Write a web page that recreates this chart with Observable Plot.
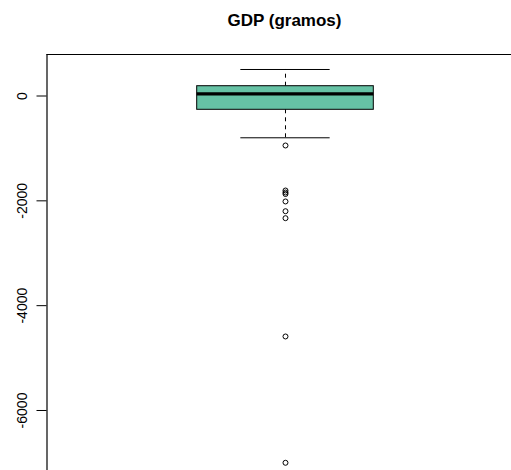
<!DOCTYPE html>
<html>
<head>
<meta charset="utf-8">
<script src="https://cdn.jsdelivr.net/npm/d3@7"></script>
<script src="https://cdn.jsdelivr.net/npm/@observablehq/plot@0.6"></script>
<style>
  html, body { margin: 0; padding: 0; background: #fff; }
  #wrap { position: relative; width: 511px; height: 470px; overflow: hidden; }
  #title { position: absolute; left: 0; top: 0; width: 511px; height: 40px; }
  #title span { position: absolute; left: 284.5px; top: 11px; transform: translateX(-50%);
    font-family: "Liberation Sans", Arial, sans-serif; font-weight: bold; font-size: 17px; white-space: nowrap; color: #000; }
  #chart { position: absolute; left: 0; top: 40px; }
  #chart svg { display: block; }
</style>
</head>
<body>
<div id="wrap">
  <div id="title"><span>GDP (gramos)</span></div>
  <div id="chart"></div>
</div>
<script>
// Box-plot summary (GDP, gramos)
const boxStats = [{
  group: 1,
  lowerWhisker: -797,
  q1: -263,
  median: 42,
  q3: 187,
  upperWhisker: 506
}];
// Outlying observations
const outliers = [-944, -1803, -1841, -1870, -2012, -2198, -2331, -4588, -6998];
// Y-axis tick values
const yTicks = [0, -2000, -4000, -6000];

const xDomain = [-0.0804, 2.0238];
const yDomain = [-7145, 792];
const boxHalf = 0.4, stapleHalf = 0.2023;

const outlierData = outliers.map(v => ({group: 1, value: v}));

const chart = Plot.plot({
  width: 511,
  height: 430,
  marginLeft: 46.5,
  marginRight: 0,
  marginTop: 14,
  marginBottom: 0,
  style: {fontFamily: '"Liberation Sans", Arial, sans-serif', fontSize: "14px", color: "#000", background: "#fff"},
  x: {domain: xDomain, axis: null},
  y: {domain: yDomain, axis: null},
  marks: [
    // frame (left and top edges)
    Plot.ruleX([xDomain[0]], {y1: yDomain[0], y2: yDomain[1], stroke: "#000", strokeWidth: 1.2}),
    Plot.ruleY([yDomain[1]], {x1: xDomain[0], x2: xDomain[1], stroke: "#000", strokeWidth: 1.2}),
    Plot.axisY({
      ticks: yTicks,
      tickSize: 10,
      tickRotate: -90,
      tickPadding: 10,
      tickFormat: d => String(d),
      fontSize: 14,
      stroke: "#000"
    }),
    // whiskers (dashed)
    Plot.ruleX(boxStats, {x: "group", y1: "q3", y2: "upperWhisker", stroke: "#000", strokeDasharray: "4,4"}),
    Plot.ruleX(boxStats, {x: "group", y1: "q1", y2: "lowerWhisker", stroke: "#000", strokeDasharray: "4,4"}),
    // staples
    Plot.ruleY(boxStats, {y: "upperWhisker", x1: d => d.group - stapleHalf, x2: d => d.group + stapleHalf, stroke: "#000"}),
    Plot.ruleY(boxStats, {y: "lowerWhisker", x1: d => d.group - stapleHalf, x2: d => d.group + stapleHalf, stroke: "#000"}),
    // box
    Plot.rect(boxStats, {x1: d => d.group - boxHalf, x2: d => d.group + boxHalf, y1: "q1", y2: "q3", fill: "#66C2A5", stroke: "#000", strokeWidth: 1}),
    // median
    Plot.ruleY(boxStats, {y: "median", x1: d => d.group - boxHalf, x2: d => d.group + boxHalf, stroke: "#000", strokeWidth: 3.2}),
    // outliers
    Plot.dot(outlierData, {x: "group", y: "value", r: 2.5, stroke: "#000", strokeWidth: 1, fill: "none"})
  ]
});
document.getElementById("chart").appendChild(chart);
</script>
</body>
</html>
